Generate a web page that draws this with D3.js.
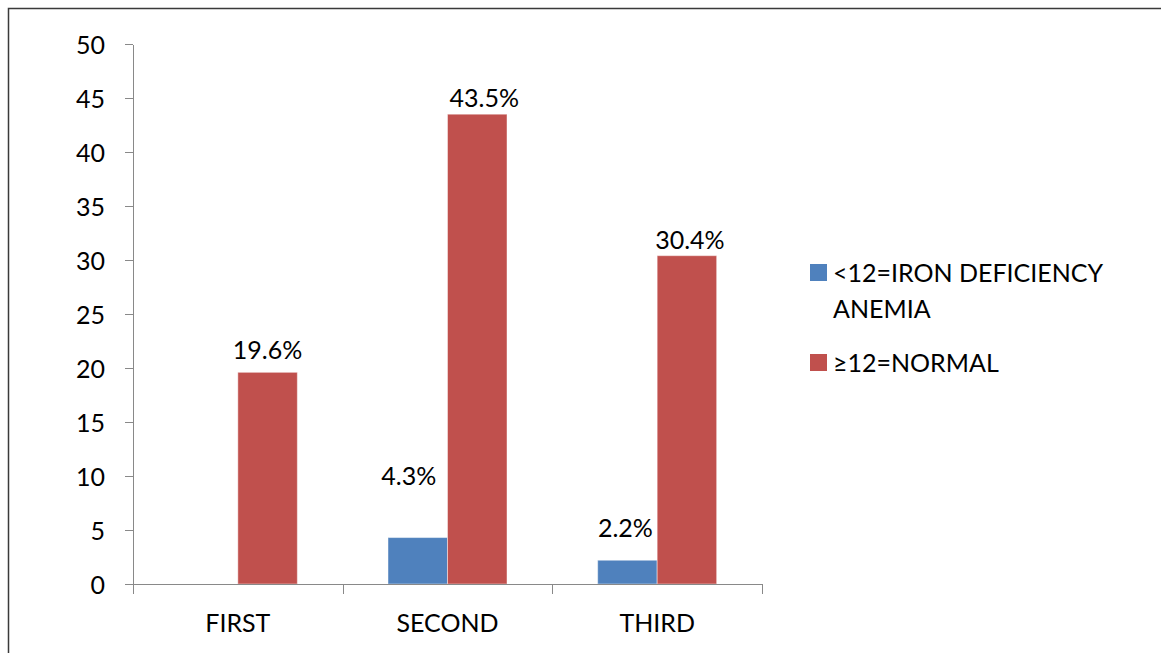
<!DOCTYPE html>
<html>
<head>
<meta charset="utf-8">
<script src="https://cdn.jsdelivr.net/npm/d3@7"></script>
<style>
  body { margin: 0; background: #fff; }
  svg text { font-family: Lato, "Open Sans", sans-serif; fill: #000; }
  .axis path, .axis line { stroke: #898989; shape-rendering: crispEdges; }
</style>
</head>
<body>
<div id="chart"></div>
<script>
// data
const categories = ["FIRST", "SECOND", "THIRD"];
const seriesNames = ["<12=IRON DEFICIENCY ANEMIA", "\u226512=NORMAL"];
const anemiaValues = [0, 4.3, 2.2];
const normalValues = [19.6, 43.5, 30.4];
const yTicks = [0, 5, 10, 15, 20, 25, 30, 35, 40, 45, 50];

const colors = ["#4F81BD", "#C0504D"];

// 1: BLANK SVG
const W = 1161, H = 653;
const margin = { top: 44, left: 133 };
const plotW = 629, plotH = 540;

const svg = d3.select("#chart").append("svg")
    .attr("width", W)
    .attr("height", H);

// outer frame (runs off right and bottom like the original)
svg.append("rect")
    .attr("x", 8.5).attr("y", 8.5)
    .attr("width", 1300).attr("height", 800)
    .attr("fill", "none")
    .attr("stroke", "#3a3a3a")
    .attr("stroke-width", 1.5);

const g = svg.append("g")
    .attr("transform", `translate(${margin.left},${margin.top})`);

// 2: SCALES
const x0 = d3.scaleBand().domain(categories).range([0, plotW]);
const x1 = d3.scaleBand().domain(seriesNames)
    .range([0, x0.bandwidth()])
    .paddingInner(0)
    .paddingOuter(0.762);
const y = d3.scaleLinear().domain([0, 50]).range([plotH, 0]);

// rows for drawing
const rows = [];
categories.forEach((c, i) => {
    rows.push({ cat: c, series: seriesNames[0], value: anemiaValues[i], color: colors[0] });
    rows.push({ cat: c, series: seriesNames[1], value: normalValues[i], color: colors[1] });
});

// 3: BARS
g.selectAll("rect.bar")
    .data(rows.filter(d => d.value > 0))
    .enter()
    .append("rect")
    .attr("class", "bar")
    .attr("x", d => x0(d.cat) + x1(d.series))
    .attr("y", d => y(d.value))
    .attr("width", x1.bandwidth())
    .attr("height", d => plotH - y(d.value))
    .attr("fill", d => d.color)
    .attr("stroke", "rgba(255,255,255,0.45)")
    .attr("stroke-width", 1);

// 4: AXES
const yAxis = g.append("g")
    .attr("class", "axis")
    .call(d3.axisLeft(y).tickValues(yTicks).tickSize(8).tickPadding(20).tickSizeOuter(0));
yAxis.selectAll("text")
    .style("font-size", "25px")
    .attr("dy", "0.36em");

// x axis: ticks sit on category boundaries
const xAxis = g.append("g")
    .attr("class", "axis")
    .attr("transform", `translate(0,${plotH})`);
xAxis.append("line")
    .attr("x1", 0).attr("x2", plotW)
    .attr("y1", 0.5).attr("y2", 0.5);
const bounds = categories.map(c => x0(c)).concat([plotW]);
xAxis.selectAll("line.tick")
    .data(bounds)
    .enter()
    .append("line")
    .attr("class", "tick")
    .attr("x1", d => Math.round(d) + 0.5).attr("x2", d => Math.round(d) + 0.5)
    .attr("y1", 0).attr("y2", 10);
xAxis.selectAll("text")
    .data(categories)
    .enter()
    .append("text")
    .attr("x", d => x0(d) + x0.bandwidth() / 2)
    .attr("y", 48)
    .attr("text-anchor", "middle")
    .style("font-size", "25px")
    .text(d => d);

// 5: DATA LABELS (nudged like the original layout)
const labelNudge = {
    "FIRST|1": [0, -13],
    "SECOND|0": [-9, -53],
    "SECOND|1": [7, -7],
    "THIRD|0": [-2, -23],
    "THIRD|1": [3, -7]
};
g.selectAll("text.label")
    .data(rows.filter(d => d.value > 0))
    .enter()
    .append("text")
    .attr("class", "label")
    .attr("text-anchor", "middle")
    .style("font-size", "25px")
    .attr("x", d => {
        const n = labelNudge[d.cat + "|" + seriesNames.indexOf(d.series)] || [0, -8];
        return x0(d.cat) + x1(d.series) + x1.bandwidth() / 2 + n[0];
    })
    .attr("y", d => {
        const n = labelNudge[d.cat + "|" + seriesNames.indexOf(d.series)] || [0, -8];
        return y(d.value) + n[1];
    })
    .text(d => d.value.toFixed(1) + "%");

// 6: LEGEND
const legend = svg.append("g").attr("transform", "translate(810,0)");
const legendLines = [["<12=IRON DEFICIENCY", "ANEMIA"], ["\u226512=NORMAL"]];
const legendTop = [264, 354];
legendLines.forEach((lines, i) => {
    legend.append("rect")
        .attr("x", 0).attr("y", legendTop[i])
        .attr("width", 17).attr("height", 17)
        .attr("fill", colors[i]);
    lines.forEach((t, j) => {
        legend.append("text")
            .attr("x", 23)
            .attr("y", legendTop[i] + 18 + j * 36)
            .style("font-size", "25px")
            .text(t);
    });
});
</script>
</body>
</html>
